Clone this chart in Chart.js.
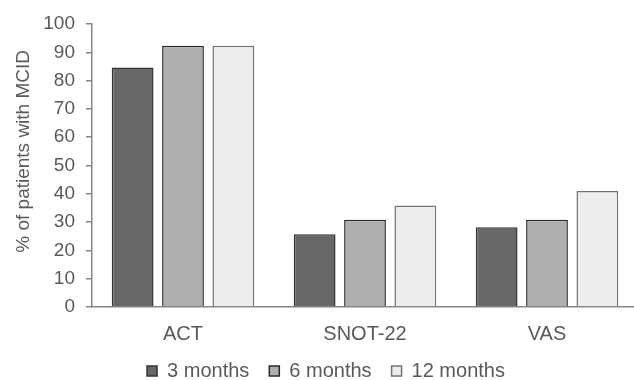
<!DOCTYPE html>
<html>
<head>
<meta charset="utf-8">
<script src="https://cdn.jsdelivr.net/npm/chart.js@4"></script>
<style>
  html, body { margin: 0; padding: 0; background: #fff; overflow: hidden; }
  #wrap { width: 638px; height: 380px; }
</style>
</head>
<body>
<div id="wrap"><canvas id="chart_mcid"></canvas></div>
<script>
var categories = ['ACT', 'SNOT-22', 'VAS'];
var seriesNames = ['3 months', '6 months', '12 months'];
var months3 = [84.6, 25.7, 28.2];
var months6 = [92.3, 30.8, 30.8];
var months12 = [92.3, 35.9, 41.0];
var yTicks = [0, 10, 20, 30, 40, 50, 60, 70, 80, 90, 100];
var yTitle = '% of patients with MCID';

var fills = ['#676767', '#afafaf', '#ededed'];
var borders = ['#333333', '#2a2a2a', '#747474'];
var values = [months3, months6, months12];

var textColor = '#595959';
var axisColor = '#868686';
var family = "'Liberation Sans', Arial, sans-serif";

var chart_mcid = new Chart(document.getElementById('chart_mcid'), {
    type: 'bar',
    data: {
        labels: categories,
        datasets: seriesNames.map(function (name, i) {
            return {
                label: name,
                data: values[i],
                backgroundColor: fills[i],
                borderColor: borders[i],
                borderWidth: 1.5,
                categoryPercentage: 0.83,
                barPercentage: 0.83
            };
        })
    },
    options: {
        animation: false,
        responsive: true,
        maintainAspectRatio: false,
        layout: {
            padding: { top: 24, right: 0, left: 14, bottom: 0 }
        },
        plugins: {
            legend: {
                position: 'bottom',
                labels: {
                    color: textColor,
                    font: { family: family, size: 20 },
                    boxWidth: 10,
                    boxHeight: 10,
                    padding: 20
                }
            },
            tooltip: { enabled: false }
        },
        scales: {
            x: {
                afterFit: function (scale) {
                    scale.height = 34;
                    // let the labels spill below the (fixed) axis box
                    scale._computeLabelArea = function () { return null; };
                },
                grid: { display: false, drawTicks: false },
                border: { display: true, color: axisColor, width: 1.5 },
                ticks: { color: textColor, font: { family: family, size: 20 }, padding: 15 }
            },
            y: {
                min: 0,
                max: 100,
                afterBuildTicks: function (scale) {
                    scale.ticks = yTicks.map(function (v) { return { value: v }; });
                },
                afterFit: function (scale) { scale.width = 78; },
                grid: {
                    drawOnChartArea: false,
                    drawTicks: true,
                    tickLength: 6,
                    tickColor: axisColor,
                    lineWidth: 1.5
                },
                border: { display: true, color: axisColor, width: 1.5 },
                ticks: { color: textColor, font: { family: family, size: 19 }, padding: 11 }
            }
        }
    },
    plugins: [{
        id: 'legendHeight',
        beforeLayout: (chart) => {
            const lg = chart.legend;
            if (lg && !lg._fixedFit) {
                const fit = lg.fit;
                lg.fit = function () {
                    fit.call(this);
                    this.height = 39;
                };
                lg._fixedFit = true;
            }
        }
    }, {
        id: 'yTitle',
        afterDraw: (chart) => {
            const ctx = chart.ctx;
            const area = chart.chartArea;
            ctx.save();
            ctx.translate(24, area.top + (area.bottom - area.top) * 0.45);
            ctx.rotate(-Math.PI / 2);
            ctx.fillStyle = textColor;
            ctx.font = '19px ' + family;
            ctx.textAlign = 'center';
            ctx.textBaseline = 'middle';
            ctx.fillText(yTitle, 0, 0);
            ctx.restore();
        }
    }, {
        id: 'whiteBg',
        beforeDraw: (chart) => {
            const ctx = chart.canvas.getContext('2d');
            ctx.save();
            ctx.globalCompositeOperation = 'destination-over';
            ctx.fillStyle = 'white';
            ctx.fillRect(0, 0, chart.canvas.width, chart.canvas.height);
            ctx.restore();
        }
    }]
});
</script>
</body>
</html>
